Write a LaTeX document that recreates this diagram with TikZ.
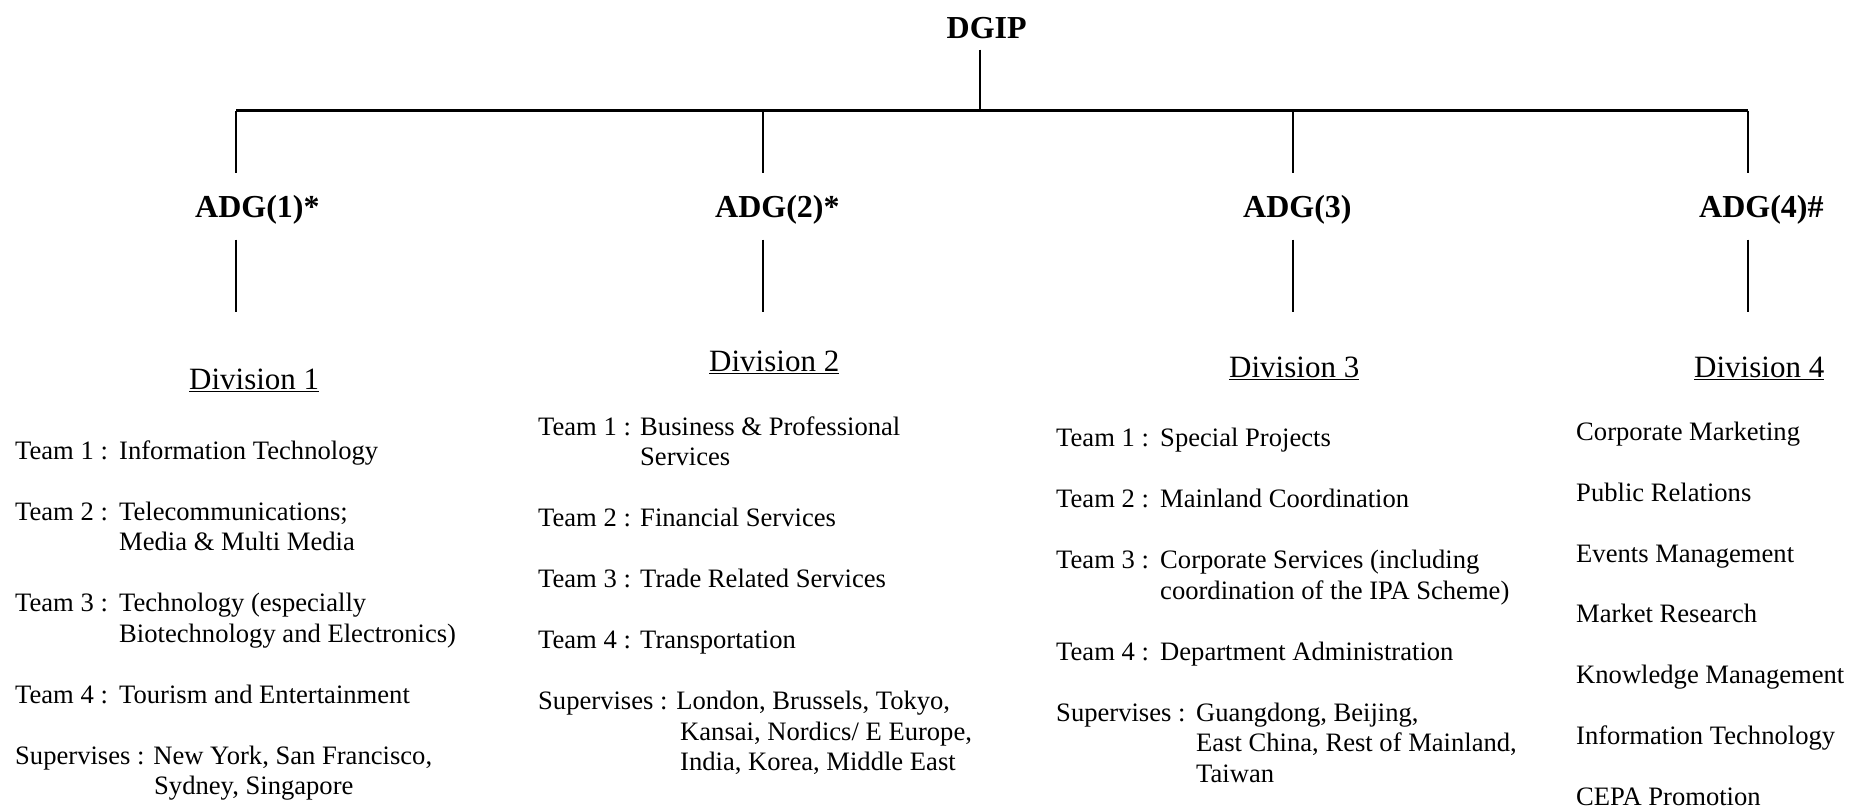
\documentclass[tikz,border=0pt]{standalone}
\usepackage{fontspec}
\setmainfont{Liberation Serif}
\usepackage{array}

\tikzset{
  head/.style={font=\fontsize{32}{36}\selectfont\bfseries, inner xsep=0pt},
  divtitle/.style={font=\fontsize{31}{36}\selectfont, inner sep=0pt, anchor=base west},
  teamlist/.style={font=\fontsize{26.6}{30.5}\selectfont, inner sep=0pt, anchor=base west},
  link/.style={line width=1.8pt},
  bar/.style={line width=3pt},
}

\begin{document}
\begin{tikzpicture}[x=1pt,y=-1pt]
	\useasboundingbox (0,0) rectangle (1850,809);
	% top of the chart
	\node[head, text depth=0pt, inner ysep=11pt, anchor=base] (dgip) at (986.7,38.3) {DGIP};
	\coordinate (top) at (980,110.7);
	\coordinate (b1) at (236,110.7);
	\coordinate (b2) at (763,110.7);
	\coordinate (b3) at (1293,110.7);
	\coordinate (b4) at (1748,110.7);
	\coordinate (low) at (0,312);

	\node[head, text height=22pt, text depth=0pt, inner ysep=22pt, anchor=base west] (adg1) at (195,217.3) {ADG(1)*};
	\node[head, text height=22pt, text depth=0pt, inner ysep=22pt, anchor=base west] (adg2) at (715,217.3) {ADG(2)*};
	\node[head, text height=22pt, text depth=0pt, inner ysep=22pt, anchor=base west] (adg3) at (1243,217.3) {ADG(3)};
	\node[head, text height=22pt, text depth=0pt, inner ysep=22pt, anchor=base west] (adg4) at (1699,217.3) {ADG(4)\#};

	\draw[link] (dgip.south -| top) -- (top);
	\draw[bar] (b1) -- (b4);
	\foreach \i in {1,...,4} {
		\draw[link] (b\i) -- (adg\i.north -| b\i);
		\draw[link] (adg\i.south -| b\i) -- (low -| b\i);
	}

	% divisions
	\node[divtitle] (div1) at (189,389.3) {\underline{Division 1}};
	\node[divtitle] (div2) at (709,371.6) {\underline{Division 2}};
	\node[divtitle] (div3) at (1229,377.5) {\underline{Division 3}};
	\node[divtitle] (div4) at (1694,377.5) {\underline{Division 4}};

	\node[teamlist] (teams1) at (15,459.3) {\begin{tabular}[t]{@{}p{104pt}@{}l@{}}
		Team 1 : & Information Technology\\
		\\
		Team 2 : & Telecommunications;\\
		& Media \& Multi Media\\
		\\
		Team 3 : & Technology (especially\\
		& Biotechnology and Electronics)\\
		\\
		Team 4 : & Tourism and Entertainment\\
		\\
		\multicolumn{2}{@{}l@{}}{Supervises : New York, San Francisco,}\\
		\multicolumn{2}{@{}l@{}}{\hspace*{139pt}Sydney, Singapore}
	\end{tabular}};

	\node[teamlist] (teams2) at (538,435) {\begin{tabular}[t]{@{}p{102pt}@{}l@{}}
		Team 1 : & Business \& Professional\\
		& Services\\
		\\
		Team 2 : & Financial Services\\
		\\
		Team 3 : & Trade Related Services\\
		\\
		Team 4 : & Transportation\\
		\\
		\multicolumn{2}{@{}l@{}}{Supervises : London, Brussels, Tokyo,}\\
		\multicolumn{2}{@{}l@{}}{\hspace*{142pt}Kansai, Nordics/ E Europe,}\\
		\multicolumn{2}{@{}l@{}}{\hspace*{142pt}India, Korea, Middle East}
	\end{tabular}};

	\node[teamlist] (teams3) at (1056,446.7) {\begin{tabular}[t]{@{}p{104pt}@{}l@{}}
		Team 1 : & Special Projects\\
		\\
		Team 2 : & Mainland Coordination\\
		\\
		Team 3 : & Corporate Services (including\\
		& coordination of the IPA Scheme)\\
		\\
		Team 4 : & Department Administration\\
		\\
		\multicolumn{2}{@{}l@{}}{\makebox[140pt][l]{Supervises :}Guangdong, Beijing,}\\
		\multicolumn{2}{@{}l@{}}{\hspace*{140pt}East China, Rest of Mainland,}\\
		\multicolumn{2}{@{}l@{}}{\hspace*{140pt}Taiwan}
	\end{tabular}};

	\node[teamlist, font=\fontsize{26.6}{30.4}\selectfont] (units4) at (1576,440.5) {\begin{tabular}[t]{@{}l@{}}
		Corporate Marketing\\ \\
		Public Relations\\ \\
		Events Management\\ \\
		Market Research\\ \\
		Knowledge Management\\ \\
		Information Technology\\ \\
		CEPA Promotion
	\end{tabular}};
\end{tikzpicture}
\end{document}
